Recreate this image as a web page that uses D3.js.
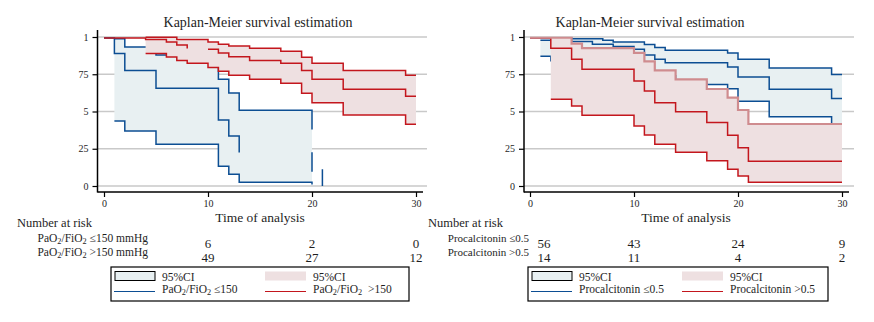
<!DOCTYPE html>
<html>
<head>
<meta charset="utf-8">
<script src="https://cdn.jsdelivr.net/npm/d3@7"></script>
<style>
  body { margin: 0; background: #fff; }
  text { font-family: "Liberation Serif", "DejaVu Serif", serif; fill: #1e1e1e; }
</style>
</head>
<body>
<svg id="chart" width="874" height="322"></svg>
<script>
// axis ticks
const xTicks = [0, 10, 20, 30];
const yTicks = [0, 0.25, 0.5, 0.75, 1];
const yTickLabels = ["0", "25", "5", "75", "1"];

// left panel: PaO2/FiO2 <=150 (blue) -- null = segment not drawn
const lowPfSurvT = [0, 1, 2, 5, 11, 12, 13, 16, 20, 20, 20.5, 21, 21];
const lowPfSurv  = [0.993, 0.89, 0.776, 0.656, 0.443, 0.336, 0.224, null, 0.226, 0.096, null, 0.112, 0];
const lowPfCiT   = [1, 2, 5, 11, 12, 13, 20];
const lowPfCiHi  = [0.989, 0.933, 0.879, 0.716, 0.624, 0.508, 0.38];
const lowPfCiLo  = [0.436, 0.369, 0.28, 0.132, 0.079, 0.025, 0.01];

// left panel: PaO2/FiO2 >150 (red)
const highPfSurvT = [0, 4, 6, 7, 8, 9, 10, 11, 12, 14, 17, 19, 20, 23, 29, 30];
const highPfSurv  = [0.993, 0.984, 0.966, 0.946, 0.922, null, 0.917, 0.893, 0.868, 0.843, 0.823, 0.776, 0.716, 0.649, 0.602, 0.602];
const highPfUpT   = [4, 7, 10, 11, 12, 14, 17, 19, 20, 23, 29, 30];
const highPfUp    = [0.998, 0.984, 0.966, 0.951, 0.94, 0.924, 0.904, 0.864, 0.823, 0.776, 0.743, 0.743];
const highPfLoT   = [4, 6, 7, 8, 10, 11, 12, 14, 17, 19, 20, 23, 29, 30];
const highPfLo    = [0.89, 0.866, 0.843, 0.823, 0.796, 0.77, 0.743, 0.716, 0.689, 0.622, 0.559, 0.477, 0.414, 0.414];

// right panel: procalcitonin <=0.5 (blue)
const lowPctSurvT = [0, 4, 6, 8, 10, 11, 12, 13, 19, 20, 23, 29, 30];
const lowPctSurv  = [0.993, 0.97, 0.951, 0.937, 0.917, 0.879, 0.85, 0.828, 0.799, 0.732, 0.649, 0.588, 0.588];
const lowPctUpT   = [1, 2, 7, 8, 11, 12, 13, 19, 20, 23, 29, 30];
const lowPctUp    = [0.978, 0.989, 0.978, 0.966, 0.949, 0.93, 0.911, 0.893, 0.85, 0.792, 0.749, 0.749];
const lowPctLoT   = [1, 2, 6, 10, 12, 14, 17, 19, 20, 23, 29];
const lowPctLo    = [0.87, 0.84, 0.8, 0.77, 0.74, 0.70, 0.682, 0.653, 0.568, 0.465, 0.42];

// right panel: procalcitonin >0.5 (red)
const highPctSurvT = [0, 2, 4, 5, 10, 11, 12, 14, 17, 19, 20, 21, 30];
const highPctSurv  = [0.993, 0.924, 0.85, 0.783, 0.705, 0.638, 0.559, 0.499, 0.427, 0.34, 0.257, 0.166, 0.166];
const highPctUpT   = [0, 4, 5, 10, 11, 12, 14, 17, 19, 20, 21, 30];
const highPctUp    = [0.995, 0.955, 0.926, 0.893, 0.837, 0.776, 0.716, 0.651, 0.593, 0.51, 0.416, 0.416];
const highPctLoT   = [2, 4, 5, 10, 11, 12, 14, 17, 19, 20, 21, 30];
const highPctLo    = [0.582, 0.537, 0.474, 0.403, 0.342, 0.28, 0.226, 0.17, 0.112, 0.067, 0.025, 0.025];

// number at risk
const pfRiskT = [10, 20, 30];
const pfRiskLow = [6, 2, 0];
const pfRiskHigh = [49, 27, 12];
const pctRiskT = [0, 10, 20, 30];
const pctRiskLow = [56, 43, 24, 9];
const pctRiskHigh = [14, 11, 4, 2];

const BLUE = "#0c4e93", RED = "#c3161d", PINK = "#cf8c8f";
const BLUE_BAND = "#e8f0f2", RED_BAND = "#eee0e1";

const svg = d3.select("#chart");

function stepAt(ts, vs, t) {
    let v = null;
    ts.forEach((d, i) => { if (d <= t && vs[i] != null) v = vs[i]; });
    return v;
}

function bandData(lo, hi, t0, t1) {
    const times = Array.from(new Set([...lo.t, ...hi.t, t0, t1]))
        .filter(t => t >= t0 && t <= t1)
        .sort((a, b) => a - b);
    return times.map(t => ({ t, lo: stepAt(lo.t, lo.v, t), hi: stepAt(hi.t, hi.v, t) }));
}

function richText(sel, parts) {
    parts.forEach(([s, sub]) => {
        const ts = sel.append("tspan").text(s);
        if (sub) ts.attr("baseline-shift", "-28%").attr("font-size", "72%");
    });
}

function drawPanel(p) {
    const g = svg.append("g");
    const x = d3.scaleLinear().domain([0, 30]).range(p.xRange);
    const y = d3.scaleLinear().domain([0, 1]).range([186, 37]);

    // horizontal grid
    g.selectAll(".grid").data(yTicks).join("line")
        .attr("x1", p.axisX).attr("x2", p.gridEnd)
        .attr("y1", d => y(d)).attr("y2", d => y(d))
        .attr("stroke", "#c9c9c9").attr("stroke-width", 1.3);

    const line = d3.line().curve(d3.curveStepAfter)
        .defined(d => d[1] != null)
        .x(d => x(d[0])).y(d => y(d[1]));
    const area = d3.area().curve(d3.curveStepAfter)
        .x(d => x(d.t)).y0(d => y(d.lo)).y1(d => y(d.hi));

    p.groups.forEach(grp => {
        g.append("path")
            .datum(bandData(grp.lo, grp.hi, grp.band[0], grp.band[1]))
            .attr("d", area)
            .attr("fill", grp.fill);
        grp.lines.forEach(l => {
            g.append("path")
                .datum(d3.zip(l.t, l.v))
                .attr("d", line)
                .attr("fill", "none")
                .attr("stroke", l.color)
                .attr("stroke-width", l.w || 1.5);
        });
    });

    // axes
    const xAxis = g.append("g")
        .attr("transform", "translate(0,192)")
        .attr("font-size", 13)
        .call(d3.axisBottom(x).tickValues(xTicks).tickSize(5).tickPadding(3));
    xAxis.select(".domain").remove();
    xAxis.selectAll("line").attr("stroke", "#000").attr("stroke-width", 1.2);

    const yAxis = g.append("g")
        .attr("transform", `translate(${p.axisX},0)`)
        .attr("font-size", 13)
        .call(d3.axisLeft(y).tickValues(yTicks).tickFormat((d, i) => yTickLabels[i]).tickSize(5).tickPadding(4));
    yAxis.select(".domain").remove();
    yAxis.selectAll("line").attr("stroke", "#000").attr("stroke-width", 1.2);

    g.append("line").attr("x1", p.axisX).attr("x2", p.axisX).attr("y1", 30).attr("y2", 192.5)
        .attr("stroke", "#000").attr("stroke-width", 1.5);
    g.append("line").attr("x1", p.axisX).attr("x2", p.axisEnd).attr("y1", 192).attr("y2", 192)
        .attr("stroke", "#000").attr("stroke-width", 1.5);

    // titles
    g.append("text").attr("x", p.titleX).attr("y", 27)
        .attr("text-anchor", "middle").attr("font-size", 14)
        .text("Kaplan-Meier survival estimation");
    g.append("text").attr("x", (p.xRange[0] + p.xRange[1]) / 2).attr("y", 222)
        .attr("text-anchor", "middle").attr("font-size", 13.5)
        .text("Time of analysis");

    // number at risk
    g.append("text").attr("x", p.riskTitleX).attr("y", 227)
        .attr("font-size", 12.5).text("Number at risk");
    p.risk.forEach((r, k) => {
        const lbl = g.append("text").attr("x", p.riskLabelX).attr("y", 242 + k * 14)
            .attr("text-anchor", "end").attr("font-size", p.riskFont);
        richText(lbl, r.label);
        g.selectAll(null).data(r.n).join("text")
            .attr("x", (d, i) => x(p.riskT[i]) + (p.riskT[i] === 0 ? p.firstDx : 0))
            .attr("y", 248 + k * 13.5)
            .attr("text-anchor", "middle").attr("font-size", 13)
            .text(d => d);
    });

    // legend
    const lg = g.append("g").attr("transform", `translate(${p.legendX},267)`);
    lg.append("rect").attr("x", 0).attr("y", 0).attr("width", p.legendW).attr("height", 34)
        .attr("fill", "none").attr("stroke", "#000").attr("stroke-width", 1.2);
    lg.append("rect").attr("x", 4).attr("y", 4.5).attr("width", 40).attr("height", 9)
        .attr("fill", BLUE_BAND).attr("stroke", "#000").attr("stroke-width", 1);
    lg.append("rect").attr("x", 154).attr("y", 4.5).attr("width", 41).attr("height", 9)
        .attr("fill", RED_BAND);
    lg.append("text").attr("x", 51).attr("y", 14).attr("font-size", 11.5).text("95%CI");
    lg.append("text").attr("x", 202).attr("y", 14).attr("font-size", 11.5).text("95%CI");
    lg.append("line").attr("x1", 3).attr("x2", 44).attr("y1", 24.5).attr("y2", 24.5)
        .attr("stroke", BLUE).attr("stroke-width", 1.2);
    lg.append("line").attr("x1", 154).attr("x2", 195).attr("y1", 24.5).attr("y2", 24.5)
        .attr("stroke", RED).attr("stroke-width", 1.2);
    richText(lg.append("text").attr("x", 51).attr("y", 25.5).attr("font-size", 11.5), p.legendLabels[0]);
    richText(lg.append("text").attr("x", 202).attr("y", 25.5).attr("font-size", 11.5), p.legendLabels[1]);
}

drawPanel({
    xRange: [104, 416], axisX: 97.5, axisEnd: 423, gridEnd: 427, titleX: 258,
    groups: [
        {
            fill: BLUE_BAND, band: [1, 20],
            lo: { t: lowPfCiT, v: lowPfCiLo }, hi: { t: lowPfCiT, v: lowPfCiHi },
            lines: [
                { t: lowPfCiT, v: lowPfCiHi, color: BLUE },
                { t: lowPfCiT, v: lowPfCiLo, color: BLUE },
                { t: lowPfSurvT, v: lowPfSurv, color: BLUE }
            ]
        },
        {
            fill: RED_BAND, band: [4, 30],
            lo: { t: highPfLoT, v: highPfLo }, hi: { t: highPfUpT, v: highPfUp },
            lines: [
                { t: highPfUpT, v: highPfUp, color: RED },
                { t: highPfLoT, v: highPfLo, color: RED },
                { t: highPfSurvT, v: highPfSurv, color: RED }
            ]
        }
    ],
    riskTitleX: 17, riskLabelX: 148, riskFont: 11.5, riskT: pfRiskT, firstDx: 0,
    risk: [
        { label: [["PaO"], ["2", true], ["/FiO"], ["2", true], [" ≤150 mmHg"]], n: pfRiskLow },
        { label: [["PaO"], ["2", true], ["/FiO"], ["2", true], [" >150 mmHg"]], n: pfRiskHigh }
    ],
    legendX: 111, legendW: 298,
    legendLabels: [
        [["PaO"], ["2", true], ["/FiO"], ["2", true], [" ≤150"]],
        [["PaO"], ["2", true], ["/FiO"], ["2", true], ["\u00a0 >150"]]
    ]
});

drawPanel({
    xRange: [530, 842], axisX: 524, axisEnd: 849, gridEnd: 854, titleX: 650,
    groups: [
        {
            fill: BLUE_BAND, band: [1, 30],
            lo: { t: lowPctLoT, v: lowPctLo }, hi: { t: lowPctUpT, v: lowPctUp },
            lines: [
                { t: lowPctSurvT, v: lowPctSurv, color: BLUE },
                { t: lowPctUpT, v: lowPctUp, color: BLUE },
                { t: lowPctLoT, v: lowPctLo, color: BLUE }
            ]
        },
        {
            fill: RED_BAND, band: [2, 30],
            lo: { t: highPctLoT, v: highPctLo }, hi: { t: highPctUpT, v: highPctUp },
            lines: [
                { t: highPctSurvT, v: highPctSurv, color: RED },
                { t: highPctLoT, v: highPctLo, color: RED },
                { t: highPctUpT, v: highPctUp, color: PINK, w: 2.2 }
            ]
        }
    ],
    riskTitleX: 428, riskLabelX: 529, riskFont: 11, riskT: pctRiskT, firstDx: 14,
    risk: [
        { label: [["Procalcitonin ≤0.5"]], n: pctRiskLow },
        { label: [["Procalcitonin >0.5"]], n: pctRiskHigh }
    ],
    legendX: 528, legendW: 300,
    legendLabels: [
        [["Procalcitonin ≤0.5"]],
        [["Procalcitonin >0.5"]]
    ]
});
</script>
</body>
</html>
